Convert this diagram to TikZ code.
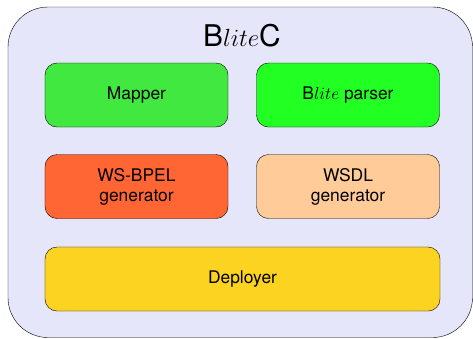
\documentclass[tikz,border=0pt]{standalone}
\usepackage{fontspec}
\setmainfont{TeX Gyre Heros}
\definecolor{lavback}{RGB}{230,230,250}
\definecolor{mapgreen}{RGB}{64,232,64}
\definecolor{parsegreen}{RGB}{34,255,34}
\definecolor{bpelred}{RGB}{255,102,51}
\definecolor{wsdlpeach}{RGB}{255,204,153}
\definecolor{deployyellow}{RGB}{252,211,32}
\begin{document}
\begin{tikzpicture}[x=1bp,y=-1bp,
every node/.style = {shape=rectangle, rounded corners=12bp, draw, align=center,
	minimum width=183bp, minimum height=64bp, font=\fontsize{17.5}{20}\selectfont}]
\useasboundingbox (0,0) rectangle (473,338);
\draw[fill=lavback, rounded corners=40bp] (8,7) rectangle (472.5,337.5);
\node[draw=none, font=\fontsize{30}{34}\selectfont, minimum width=0pt, minimum height=0pt] (title) at (242,36) {B$lite$C};
\node[fill=mapgreen] (mapper) at (136.5,95) {Mapper};
\node[fill=parsegreen] (parser) at (348,95) {B$lite$ parser};
\node[fill=bpelred] (bpel) at (136.5,186.5) {WS-BPEL\\ generator};
\node[fill=wsdlpeach] (wsdl) at (348,186.5) {WSDL\\ generator};
\node[fill=deployyellow, minimum width=395bp] (deployer) at (242.5,279) {Deployer};
\end{tikzpicture}
\end{document}
